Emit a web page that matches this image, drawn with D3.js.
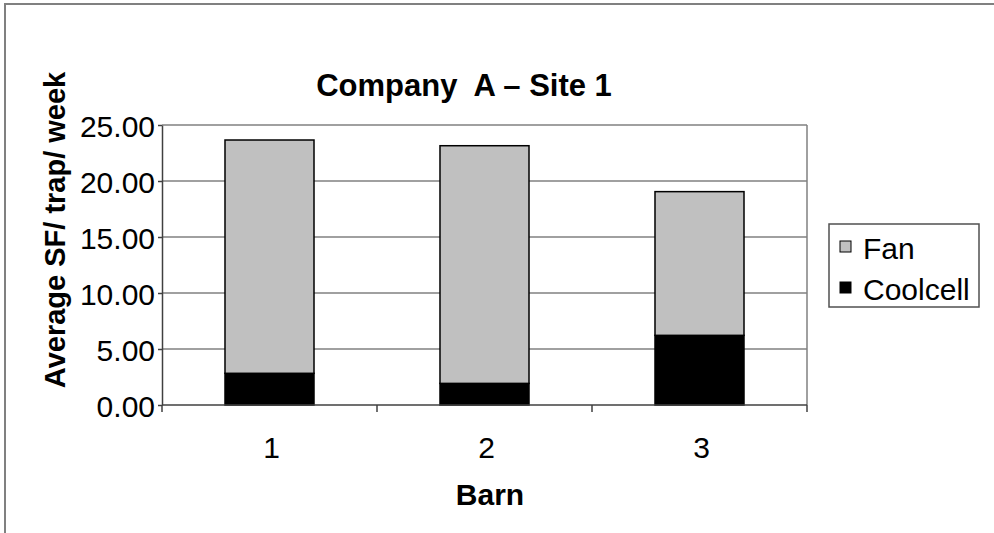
<!DOCTYPE html>
<html>
<head>
<meta charset="utf-8">
<script src="https://cdn.jsdelivr.net/npm/d3@7"></script>
<style>
  html, body { margin: 0; padding: 0; background: #fff; }
  svg { display: block; }
  text { font-family: "Liberation Sans", Arial, sans-serif; fill: #000; }
</style>
</head>
<body>
<svg id="chart" width="994" height="533"></svg>
<script>
// Average SF per trap per week, by barn
const barns = ["1", "2", "3"];
const coolcell = [2.83, 1.93, 6.22];
const fan = [20.83, 21.22, 12.83];
const seriesNames = ["Fan", "Coolcell"];
const yTicks = [0, 5, 10, 15, 20, 25];

const svg = d3.select("#chart");
const W = 994, H = 533;
const plot = { left: 162, top: 125, right: 807, bottom: 405 };

// outer chart frame
svg.append("rect")
  .attr("x", 5).attr("y", 4)
  .attr("width", W + 10).attr("height", H + 10)
  .attr("fill", "#fff").attr("stroke", "#808080").attr("stroke-width", 2);

const x = d3.scaleBand()
  .domain(barns)
  .range([plot.left, plot.right])
  .paddingInner(0.586)
  .paddingOuter(0.293);

const xCat = d3.scaleBand().domain(barns).range([plot.left, plot.right]).padding(0);

const y = d3.scaleLinear().domain([0, 25]).range([plot.bottom, plot.top]);

// gridlines
svg.append("g")
  .selectAll("line")
  .data(yTicks.filter(d => d > 0))
  .join("line")
  .attr("x1", plot.left).attr("x2", plot.right)
  .attr("y1", d => y(d)).attr("y2", d => y(d))
  .attr("stroke", "#808080").attr("stroke-width", 1.5);

// plot area right border
svg.append("line")
  .attr("x1", plot.right).attr("x2", plot.right)
  .attr("y1", plot.top).attr("y2", plot.bottom)
  .attr("stroke", "#808080").attr("stroke-width", 1.5);

// stacked bars
const rows = barns.map((b, i) => ({ barn: b, Coolcell: coolcell[i], Fan: fan[i] }));
const stack = d3.stack().keys(["Coolcell", "Fan"])(rows);
const fills = { Fan: "#c0c0c0", Coolcell: "#000000" };

svg.append("g")
  .selectAll("g")
  .data(stack)
  .join("g")
  .attr("fill", d => fills[d.key])
  .selectAll("rect")
  .data(d => d)
  .join("rect")
  .attr("x", d => x(d.data.barn))
  .attr("width", x.bandwidth())
  .attr("y", d => y(d[1]))
  .attr("height", d => y(d[0]) - y(d[1]))
  .attr("stroke", "#000").attr("stroke-width", 1.5);

// y axis
const yAxis = svg.append("g")
  .attr("transform", `translate(${plot.left},0)`)
  .call(d3.axisLeft(y).tickValues(yTicks).tickFormat(d3.format(".2f")).tickSize(4).tickSizeOuter(0).tickPadding(3));
yAxis.select(".domain").attr("stroke", "#404040").attr("stroke-width", 1.5);
yAxis.selectAll(".tick line").attr("stroke", "#404040").attr("stroke-width", 1.5);
yAxis.selectAll(".tick text")
  .attr("font-size", 30).attr("dy", "0.38em")
  .style("font-family", "'Liberation Sans', Arial, sans-serif");

// x axis: ticks on category boundaries
const xAxisG = svg.append("g").attr("transform", `translate(0,${plot.bottom})`);
xAxisG.append("line")
  .attr("x1", plot.left).attr("x2", plot.right)
  .attr("stroke", "#404040").attr("stroke-width", 1.5);
const bounds = [plot.left].concat(barns.map(b => xCat(b) + xCat.bandwidth()));
xAxisG.selectAll("line.tk")
  .data(bounds)
  .join("line").attr("class", "tk")
  .attr("x1", d => d).attr("x2", d => d)
  .attr("y1", 0).attr("y2", 7)
  .attr("stroke", "#404040").attr("stroke-width", 1.5);
xAxisG.selectAll("text")
  .data(barns)
  .join("text")
  .attr("x", d => xCat(d) + xCat.bandwidth() / 2 + 2)
  .attr("y", 53)
  .attr("text-anchor", "middle")
  .attr("font-size", 30)
  .text(d => d);

// titles
svg.append("text")
  .attr("x", 464).attr("y", 96)
  .attr("text-anchor", "middle")
  .attr("font-size", 31).attr("font-weight", "bold")
  .style("white-space", "pre")
  .text("Company  A \u2013 Site 1");

svg.append("text")
  .attr("x", 490).attr("y", 505)
  .attr("text-anchor", "middle")
  .attr("font-size", 30).attr("font-weight", "bold")
  .text("Barn");

svg.append("text")
  .attr("transform", "translate(65,230) rotate(-90)")
  .attr("text-anchor", "middle")
  .attr("font-size", 29).attr("font-weight", "bold")
  .text("Average SF/ trap/ week");

// legend
const lg = svg.append("g");
lg.append("rect")
  .attr("x", 829).attr("y", 224).attr("width", 150).attr("height", 83)
  .attr("fill", "#fff").attr("stroke", "#505050").attr("stroke-width", 1.5);
const items = lg.selectAll("g.item")
  .data(seriesNames)
  .join("g").attr("class", "item")
  .attr("transform", (d, i) => `translate(840,${241 + i * 41})`);
items.append("rect")
  .attr("width", 11).attr("height", 11)
  .attr("fill", d => fills[d]).attr("stroke", "#000").attr("stroke-width", 1);
items.append("text")
  .attr("x", 23).attr("y", 18)
  .attr("font-size", 30)
  .text(d => d);
</script>
</body>
</html>
